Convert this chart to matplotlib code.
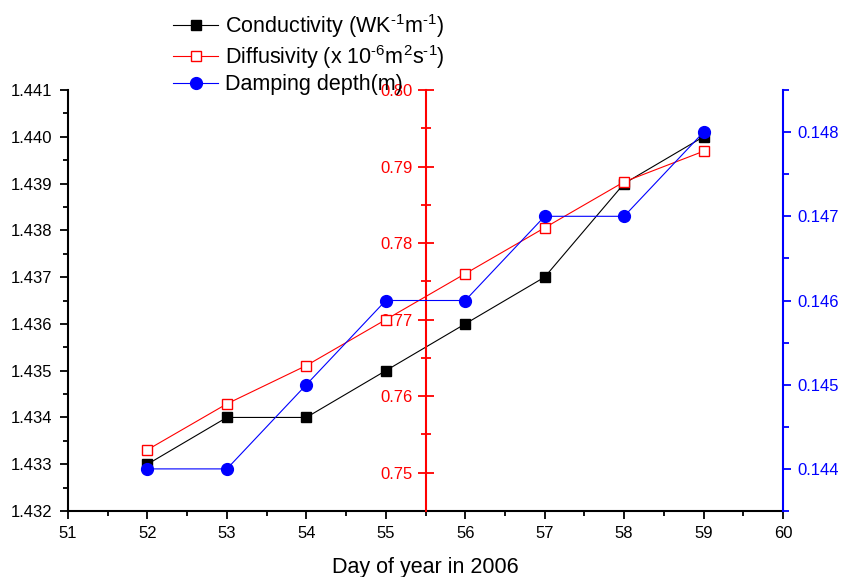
import numpy as np
import matplotlib
matplotlib.use('Agg')
import matplotlib.pyplot as plt

plt.rcParams['font.family'] = ['Liberation Sans', 'DejaVu Sans']
plt.rcParams['mathtext.fontset'] = 'custom'
plt.rcParams['mathtext.rm'] = 'Liberation Sans'
plt.rcParams['mathtext.it'] = 'Liberation Sans'

# data
days = [52, 53, 54, 55, 56, 57, 58, 59]
conductivity = [1.433, 1.434, 1.434, 1.435, 1.436, 1.437, 1.439, 1.440]
diffusivity = [0.753, 0.759, 0.764, 0.770, 0.776, 0.782, 0.788, 0.792]
damping = [0.144, 0.144, 0.145, 0.146, 0.146, 0.147, 0.147, 0.148]

x_ticks = [51, 52, 53, 54, 55, 56, 57, 58, 59, 60]
cond_ticks = [1.432, 1.433, 1.434, 1.435, 1.436, 1.437, 1.438, 1.439, 1.440, 1.441]
diff_ticks = [0.75, 0.76, 0.77, 0.78, 0.79, 0.80]
damp_ticks = [0.144, 0.145, 0.146, 0.147, 0.148]

fig = plt.figure(figsize=(8.43, 5.77), dpi=100)
ax = fig.add_axes([68 / 843, 1 - 511 / 577, (783 - 68) / 843, (511 - 90) / 577])

l1, = ax.plot(days, conductivity, color='black', lw=0.8, marker='s', ms=7,
              mfc='black', mec='black',
              label=r'Conductivity (WK$^{\text{-1}}$m$^{\text{-1}}$)')
ax.set_xlim(51, 60)
ax.set_ylim(1.432, 1.441)
ax.set_xticks(x_ticks)
ax.set_xticks([v + 0.5 for v in x_ticks[:-1]], minor=True)
ax.set_yticks(cond_ticks)
ax.set_yticklabels(['%.3f' % v for v in cond_ticks])
ax.set_yticks([v + 0.0005 for v in cond_ticks[:-1]], minor=True)
for s in ['top', 'right']:
    ax.spines[s].set_visible(False)
for s in ['left', 'bottom']:
    ax.spines[s].set_linewidth(1.5)
ax.tick_params(which='major', direction='out', length=6, width=1.3, labelsize=12, pad=5)
ax.tick_params(which='minor', direction='out', length=3.5, width=1.3)
ax.set_xlabel('Day of year in 2006', fontsize=15.5, labelpad=11)

# red axis in the middle
ax2 = ax.twinx()
l2, = ax2.plot(days, diffusivity, color='red', lw=0.8, marker='s', ms=7,
               mfc='white', mec='red',
               label=r'Diffusivity (x 10$^{\text{-6}}$m$^{\text{2}}$s$^{\text{-1}}$)')
ax2.set_ylim(0.745, 0.80)
for s in ['top', 'bottom', 'right']:
    ax2.spines[s].set_visible(False)
ax2.spines['left'].set_visible(True)
ax2.spines['left'].set_position(('axes', 0.5))
ax2.spines['left'].set_color('red')
ax2.spines['left'].set_linewidth(1.5)
ax2.yaxis.set_ticks_position('left')
ax2.yaxis.set_label_position('left')
ax2.set_yticks(diff_ticks)
ax2.set_yticklabels(['%.2f' % v for v in diff_ticks])
ax2.set_yticks([v + 0.005 for v in diff_ticks[:-1]], minor=True)
ax2.tick_params(which='major', direction='inout', length=12, width=1.3, colors='red',
                labelsize=12, pad=3)
ax2.tick_params(which='minor', direction='inout', length=7, width=1.3, colors='red')

# blue axis on the right
ax3 = ax.twinx()
l3, = ax3.plot(days, damping, color='blue', lw=0.8, marker='o', ms=8.5,
               mfc='blue', mec='blue', label='Damping depth(m)')
ax3.set_ylim(0.1435, 0.1485)
for s in ['top', 'bottom', 'left']:
    ax3.spines[s].set_visible(False)
ax3.spines['right'].set_color('blue')
ax3.spines['right'].set_linewidth(1.5)
ax3.set_yticks(damp_ticks)
ax3.set_yticklabels(['%.3f' % v for v in damp_ticks])
ax3.set_yticks([v - 0.0005 for v in damp_ticks] + [0.1485], minor=True)
ax3.tick_params(which='major', direction='out', length=6, width=1.3, colors='blue',
                labelsize=12, pad=4.5)
ax3.tick_params(which='minor', direction='out', length=4, width=1.3, colors='blue')

fig.legend(handles=[l1, l2, l3], loc='upper left', bbox_to_anchor=(173 / 843, 1 - 12 / 577),
           frameon=False, fontsize=15.5, borderpad=0, borderaxespad=0,
           handlelength=2.1, handletextpad=0.3, labelspacing=0.15)

fig.savefig('out.png', dpi=100)
